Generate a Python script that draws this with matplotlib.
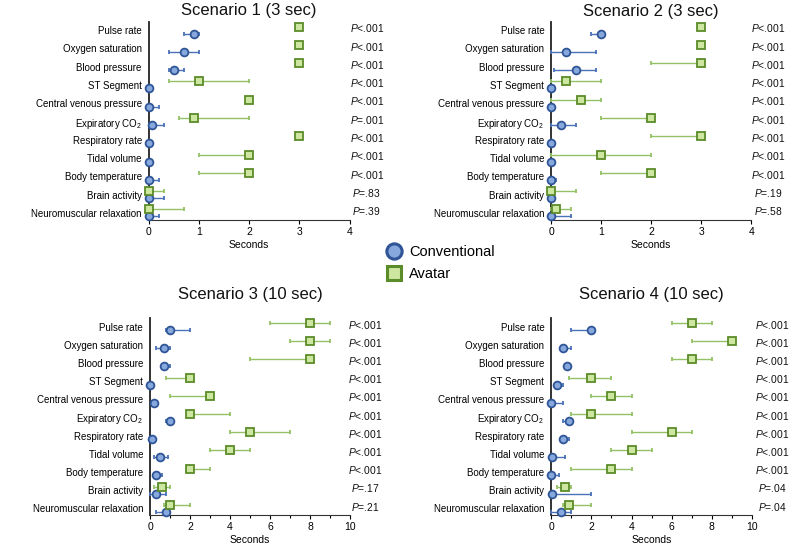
import matplotlib
matplotlib.use('Agg')
import matplotlib.pyplot as plt
from matplotlib.lines import Line2D
from matplotlib.ticker import MultipleLocator
import numpy as np

plt.rcParams['font.family'] = ['Liberation Sans', 'DejaVu Sans']
plt.rcParams['mathtext.fontset'] = 'custom'
plt.rcParams['mathtext.rm'] = 'Liberation Sans'
plt.rcParams['mathtext.it'] = 'Liberation Sans:italic'

# ── Data ──────────────────────────────────────────────────────────────────────
metrics = ['Pulse rate', 'Oxygen saturation', 'Blood pressure', 'ST Segment',
           'Central venous pressure', 'Expiratory CO$_2$', 'Respiratory rate',
           'Tidal volume', 'Body temperature', 'Brain activity',
           'Neuromuscular relaxation']

titles = ['Scenario 1 (3 sec)', 'Scenario 2 (3 sec)',
          'Scenario 3 (10 sec)', 'Scenario 4 (10 sec)']

# Scenario 1
s1_conv    = [0.9, 0.7, 0.5, 0, 0, 0.07, 0, 0, 0, 0, 0]
s1_conv_lo = [0.7, 0.4, 0.4, 0, 0, 0, 0, 0, 0, 0, 0]
s1_conv_hi = [1.0, 1.0, 0.7, 0, 0.2, 0.3, 0, 0, 0.2, 0.3, 0.2]
s1_av      = [3, 3, 3, 1.0, 2, 0.9, 3, 2, 2, 0, 0]
s1_av_lo   = [3, 3, 3, 0.4, 2, 0.6, 3, 1, 1, 0, 0]
s1_av_hi   = [3, 3, 3, 2.0, 2, 2.0, 3, 2, 2, 0.3, 0.7]
s1_p = ['<.001', '<.001', '<.001', '<.001', '<.001', '=.001', '<.001',
        '<.001', '<.001', '=.83', '=.39']

# Scenario 2
s2_conv    = [1.0, 0.3, 0.5, 0, 0, 0.2, 0, 0, 0, 0, 0]
s2_conv_lo = [0.8, 0, 0.05, 0, 0, 0, 0, 0, 0, 0, 0]
s2_conv_hi = [1.0, 0.9, 0.9, 0, 0, 0.5, 0, 0, 0.1, 0, 0.4]
s2_av      = [3, 3, 3, 0.3, 0.6, 2, 3, 1, 2, 0, 0.1]
s2_av_lo   = [3, 3, 2, 0, 0, 1, 2, 0, 1, 0, 0]
s2_av_hi   = [3, 3, 3, 1, 1, 2, 3, 2, 2, 0.5, 0.4]
s2_p = ['<.001'] * 9 + ['=.19', '=.58']

# Scenario 3
s3_conv    = [1.0, 0.7, 0.7, 0, 0.2, 1.0, 0.1, 0.5, 0.3, 0.3, 0.8]
s3_conv_lo = [0.8, 0.3, 0.6, 0, 0.2, 0.8, 0.1, 0.2, 0.3, 0, 0.3]
s3_conv_hi = [2.0, 1.0, 1.0, 0, 0.2, 1.0, 0.1, 0.9, 0.6, 0.8, 0.8]
s3_av      = [8, 8, 8, 2, 3, 2, 5, 4, 2, 0.6, 1.0]
s3_av_lo   = [6, 7, 5, 0.8, 1, 2, 4, 3, 2, 0.2, 0.7]
s3_av_hi   = [9, 9, 8, 2, 3, 4, 7, 5, 3, 1.0, 2.0]
s3_p = ['<.001'] * 9 + ['=.17', '=.21']

# Scenario 4
s4_conv    = [2.0, 0.6, 0.8, 0.3, 0, 0.9, 0.6, 0.05, 0, 0.05, 0.5]
s4_conv_lo = [1.0, 0.5, 0.8, 0.3, 0, 0.6, 0.6, 0, 0, 0, 0]
s4_conv_hi = [2.0, 1.0, 0.8, 0.6, 0.6, 0.9, 0.9, 0.7, 0.4, 2.0, 1.0]
s4_av      = [7, 9, 7, 2, 3, 2, 6, 4, 3, 0.7, 0.9]
s4_av_lo   = [6, 7, 6, 0.9, 2, 1, 4, 3, 1, 0.3, 0.6]
s4_av_hi   = [8, 9, 8, 3, 4, 4, 7, 5, 4, 1.0, 2.0]
s4_p = ['<.001'] * 9 + ['=.04', '=.04']

scenarios = [
    (s1_conv, s1_conv_lo, s1_conv_hi, s1_av, s1_av_lo, s1_av_hi, s1_p),
    (s2_conv, s2_conv_lo, s2_conv_hi, s2_av, s2_av_lo, s2_av_hi, s2_p),
    (s3_conv, s3_conv_lo, s3_conv_hi, s3_av, s3_av_lo, s3_av_hi, s3_p),
    (s4_conv, s4_conv_lo, s4_conv_hi, s4_av, s4_av_lo, s4_av_hi, s4_p),
]

# ── Styling ───────────────────────────────────────────────────────────────────
C_FACE, C_EDGE, C_ERR = '#86a8dc', '#2f5597', '#4a72b8'
A_FACE, A_EDGE, A_ERR = '#cde6a0', '#5b8c2a', '#94c166'

fig = plt.figure(figsize=(8, 5.47), dpi=100)
fig.patch.set_facecolor('white')

# left, bottom, width, height in figure fraction
positions = [(0.186, 0.598, 0.251, 0.362),
             (0.689, 0.598, 0.250, 0.362),
             (0.1875, 0.058, 0.250, 0.360),
             (0.689, 0.058, 0.251, 0.360)]
xmax = [4, 4, 10, 10]
title_y = [1.056, 1.05, 1.12, 1.12]
pval_x = [1.085, 1.085, 1.078, 1.10]

y = np.arange(len(metrics))
off = 0.19

for k, (pos, data) in enumerate(zip(positions, scenarios)):
    conv, clo, chi, av, alo, ahi, pv = [np.asarray(d) if i < 6 else d
                                         for i, d in enumerate(data)]
    ax = fig.add_axes(pos)

    ax.errorbar(conv, y + off, xerr=[conv - clo, chi - conv], fmt='o',
                ms=5.6, mfc=C_FACE, mec=C_EDGE, mew=1.3, ecolor=C_ERR,
                elinewidth=1.0, capsize=1.6, capthick=1.0, clip_on=False,
                zorder=3)
    ax.errorbar(av, y - off, xerr=[av - alo, ahi - av], fmt='s',
                ms=5.3, mfc=A_FACE, mec=A_EDGE, mew=1.3, ecolor=A_ERR,
                elinewidth=1.0, capsize=1.6, capthick=1.0, clip_on=False,
                zorder=4)

    ax.set_xlim(0, xmax[k])
    ax.set_ylim(len(metrics) - 1 + 0.38, -0.45)
    ax.set_yticks(y)
    ax.set_yticklabels(metrics, fontsize=7.0)
    ax.tick_params(axis='y', length=0, pad=5)
    if xmax[k] == 4:
        ax.xaxis.set_major_locator(MultipleLocator(1))
    else:
        ax.xaxis.set_major_locator(MultipleLocator(2))
        ax.xaxis.set_minor_locator(MultipleLocator(1))
    ax.tick_params(axis='x', which='major', length=3, width=0.8,
                   labelsize=7.5, pad=2)
    ax.tick_params(axis='x', which='minor', length=2, width=0.8)
    ax.set_xlabel('Seconds', fontsize=7.5, labelpad=2)

    for side in ('top', 'right'):
        ax.spines[side].set_visible(False)
    ax.spines['left'].set_linewidth(1.3)
    ax.spines['left'].set_color('#222222')
    ax.spines['bottom'].set_linewidth(0.8)
    ax.spines['bottom'].set_color('#333333')

    ax.text(0.5, title_y[k], titles[k], transform=ax.transAxes,
            fontsize=12, ha='center', va='center', color='#111111')

    for i, p in enumerate(pv):
        ax.text(pval_x[k], y[i] - 0.1, r'$\mathit{P}$' + p,
                transform=ax.get_yaxis_transform(), fontsize=7.4,
                ha='center', va='center', color='#111111')

# ── Legend ────────────────────────────────────────────────────────────────────
handles = [Line2D([], [], ls='none', marker='o', ms=11, mfc=C_FACE,
                  mec=C_EDGE, mew=2.2),
           Line2D([], [], ls='none', marker='s', ms=10, mfc=A_FACE,
                  mec=A_EDGE, mew=2.2)]
fig.legend(handles, ['Conventional', 'Avatar'], loc='center left',
           bbox_to_anchor=(0.484, 0.519), frameon=False, fontsize=10.5,
           handlelength=1.0, handletextpad=0.5, labelspacing=0.5,
           borderpad=0, borderaxespad=0)

plt.savefig('out.png', dpi=100, facecolor='white')
plt.close()
